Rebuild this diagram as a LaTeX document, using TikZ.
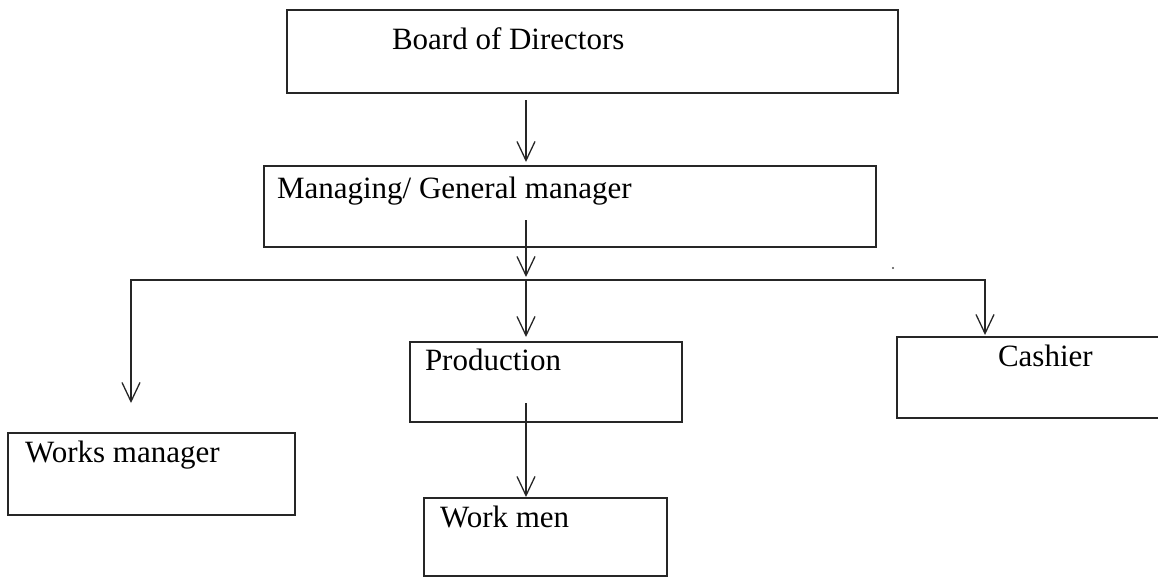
\documentclass[tikz,border=0pt]{standalone}
\usepackage{fontspec}
\setmainfont{Liberation Serif}
\usetikzlibrary{arrows.meta}
\begin{document}
\begin{tikzpicture}[x=1pt,y=-1pt,
  box/.style={draw=black!85, line width=1.3pt, inner sep=0pt, outer sep=0pt},
  lbl/.style={anchor=base west, inner sep=0pt, outer sep=0pt, font=\fontsize{31}{37}\selectfont},
  conn/.style={draw=black!85, line width=1.3pt},
  arr/.style={conn, -{Straight Barb[length=19pt,width=18pt,line width=1.3pt]}}]
\useasboundingbox (0,0) rectangle (1158,578);
% boxes
\node[box, minimum width=611pt, minimum height=83pt] (board) at (592.5,51.5) {};
\node[box, minimum width=612pt, minimum height=81pt] (mgr) at (570,206.5) {};
\node[box, minimum width=272pt, minimum height=80pt] (prod) at (546,382) {};
\node[box, minimum width=265pt, minimum height=81pt] (cash) at (1029.5,377.5) {};
\node[box, minimum width=287pt, minimum height=82pt] (works) at (151.5,474) {};
\node[box, minimum width=243pt, minimum height=78pt] (men) at (545.5,537) {};
% labels
\node[lbl] (tboard) at (392,49) {Board of Directors};
\node[lbl] (tmgr) at (277,198) {Managing/ General manager};
\node[lbl] (tprod) at (425,370) {Production};
\node[lbl] (tcash) at (998,366) {Cashier};
\node[lbl] (tworks) at (25,462) {Works manager};
\node[lbl] (tmen) at (440,527) {Work men};
% junction points
\coordinate (j) at (526,280);
\coordinate (jl) at (131,280);
\coordinate (jr) at (985,280);
% connectors
\draw[arr, shorten <=7pt, shorten >=4pt] (board.south -| j) -- (mgr.north -| j);
\draw[arr, shorten >=3pt] ([yshift=27pt]mgr.south -| j) -- (j);
\draw[arr, shorten >=30pt] (j) -| (works.north -| jl);
\draw[arr, shorten >=2pt] (j) -| (cash.north -| jr);
\draw[arr, shorten >=5pt] (j) -- (prod.north -| j);
\draw[arr, shorten >=1pt] ([yshift=19pt]prod.south -| j) -- (men.north -| j);
% speck
\fill[black!70] (893,268) circle (1.2pt);
\end{tikzpicture}
\end{document}
